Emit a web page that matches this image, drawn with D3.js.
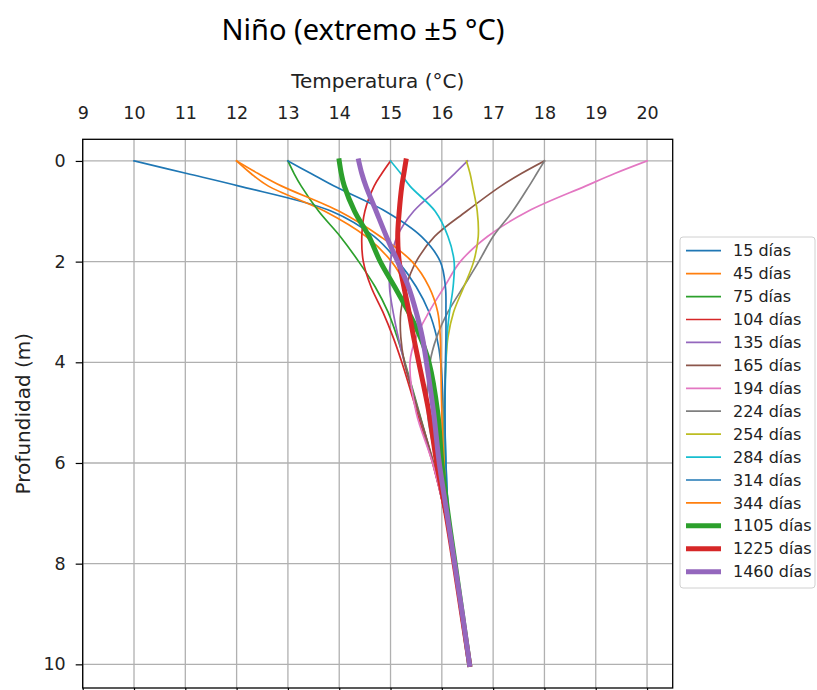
<!DOCTYPE html>
<html>
<head>
<meta charset="utf-8">
<script src="https://cdn.jsdelivr.net/npm/d3@7"></script>
<style>
  body { margin: 0; background: #fff; }
  svg { display: block; }
  text { font-family: "DejaVu Sans", sans-serif; fill: #222; }
</style>
</head>
<body>
<div id="chart"></div>
<script>
let width = 817;
let height = 690;

// depths (m) where each profile was read
let depths = [0, 0.25, 0.5, 1, 1.5, 2, 2.5, 3, 3.5, 4, 5, 6, 7, 8, 9, 10];

// temperature profiles (°C), one per day
let t15   = [10.0, 11.03, 12.05, 13.85, 14.68, 15.15, 15.5, 15.75, 15.9, 15.98, 16.03, 16.06, 16.12, 16.25, 16.4, 16.54];
let t45   = [12.0, 12.28, 12.62, 13.72, 14.52, 15.02, 15.32, 15.51, 15.64, 15.74, 15.88, 15.97, 16.1, 16.25, 16.4, 16.54];
let t75   = [13.0, 13.12, 13.26, 13.6, 14.02, 14.38, 14.7, 14.95, 15.13, 15.28, 15.56, 15.83, 16.06, 16.24, 16.39, 16.53];
let t104  = [15.0, 14.83, 14.68, 14.5, 14.44, 14.47, 14.62, 14.85, 15.05, 15.22, 15.52, 15.82, 16.06, 16.24, 16.39, 16.53];
let t135  = [16.5, 16.25, 15.99, 15.45, 15.13, 15.0, 14.98, 15.05, 15.15, 15.27, 15.55, 15.83, 16.06, 16.24, 16.39, 16.53];
let t165  = [18.0, 17.55, 17.15, 16.48, 15.86, 15.5, 15.3, 15.2, 15.2, 15.27, 15.55, 15.84, 16.06, 16.24, 16.39, 16.53];
let t194  = [20.0, 19.37, 18.8, 17.68, 16.89, 16.36, 16.05, 15.75, 15.5, 15.38, 15.5, 15.82, 16.06, 16.24, 16.39, 16.53];
let t224  = [18.0, 17.85, 17.7, 17.38, 17.0, 16.72, 16.42, 16.12, 15.9, 15.77, 15.72, 15.9, 16.08, 16.24, 16.39, 16.53];
let t254  = [16.48, 16.55, 16.6, 16.69, 16.71, 16.62, 16.43, 16.23, 16.12, 16.08, 16.05, 16.06, 16.12, 16.25, 16.39, 16.53];
let t284  = [15.0, 15.2, 15.38, 15.87, 16.12, 16.24, 16.22, 16.15, 16.1, 16.08, 16.06, 16.08, 16.13, 16.25, 16.39, 16.53];
let t314  = [13.0, 13.45, 13.9, 14.9, 15.6, 15.97, 16.07, 16.08, 16.08, 16.07, 16.06, 16.08, 16.13, 16.25, 16.39, 16.53];
let t344  = [12.0, 12.42, 12.88, 14.0, 14.8, 15.42, 15.75, 15.92, 15.97, 15.98, 16.0, 16.04, 16.12, 16.25, 16.39, 16.53];
let t1105 = [14.0, 14.04, 14.1, 14.3, 14.58, 14.8, 15.08, 15.35, 15.58, 15.75, 15.92, 16.0, 16.12, 16.26, 16.4, 16.54];
let t1225 = [15.3, 15.26, 15.22, 15.17, 15.14, 15.17, 15.26, 15.36, 15.45, 15.55, 15.75, 15.9, 16.08, 16.24, 16.39, 16.54];
let t1460 = [14.38, 14.44, 14.52, 14.72, 14.92, 15.14, 15.35, 15.5, 15.62, 15.7, 15.84, 15.95, 16.1, 16.25, 16.4, 16.54];

let dayLabels = ["15 días", "45 días", "75 días", "104 días", "135 días", "165 días", "194 días",
                 "224 días", "254 días", "284 días", "314 días", "344 días", "1105 días", "1225 días", "1460 días"];
let profiles = [t15, t45, t75, t104, t135, t165, t194, t224, t254, t284, t314, t344, t1105, t1225, t1460];

let xTicks = [9, 10, 11, 12, 13, 14, 15, 16, 17, 18, 19, 20];
let yTicks = [0, 2, 4, 6, 8, 10];

// matplotlib default colour cycle
let colors = ["#1f77b4", "#ff7f0e", "#2ca02c", "#d62728", "#9467bd", "#8c564b", "#e377c2",
              "#7f7f7f", "#bcbd22", "#17becf", "#1f77b4", "#ff7f0e", "#2ca02c", "#d62728", "#9467bd"];
let widths = [1.7, 1.7, 1.7, 1.7, 1.7, 1.7, 1.7, 1.7, 1.7, 1.7, 1.7, 1.7, 5, 5, 5];

let plot = {left: 82.7, right: 672.7, top: 139.3, bottom: 688};

let x = d3.scaleLinear().domain([9, 20.5]).range([plot.left, plot.right]);
let y = d3.scaleLinear().domain([-0.43, 10.47]).range([plot.top, plot.bottom]);

let svg = d3.select("#chart").append("svg")
    .attr("width", width)
    .attr("height", height);

svg.append("rect")
    .attr("width", width)
    .attr("height", height)
    .attr("fill", "#fff");

// title
svg.append("text")
    .attr("x", 363)
    .attr("y", 40)
    .attr("text-anchor", "middle")
    .style("font-family", "'Noto Sans', sans-serif")
    .style("font-size", "29px")
    .style("fill", "#000")
    .text("Niño (extremo ±5 °C)");

// grid
let grid = svg.append("g").attr("id", "grid");
grid.selectAll("line.vx")
    .data(xTicks)
  .enter().append("line")
    .attr("x1", d => x(d)).attr("x2", d => x(d))
    .attr("y1", plot.top).attr("y2", plot.bottom)
    .attr("stroke", "#b0b0b0")
    .attr("stroke-width", 1.3);
grid.selectAll("line.hy")
    .data(yTicks)
  .enter().append("line")
    .attr("x1", plot.left).attr("x2", plot.right)
    .attr("y1", d => y(d)).attr("y2", d => y(d))
    .attr("stroke", "#b0b0b0")
    .attr("stroke-width", 1.3);

// axes
let xAxis = svg.append("g")
    .attr("transform", "translate(0," + plot.top + ")")
    .call(d3.axisTop(x).tickValues(xTicks).tickSize(0).tickPadding(20).tickFormat(d3.format("d")));

let xAxisBottom = svg.append("g")
    .attr("transform", "translate(0," + plot.bottom + ")")
    .call(d3.axisBottom(x).tickValues(xTicks).tickSize(7).tickFormat(""));

let yAxis = svg.append("g")
    .attr("transform", "translate(" + plot.left + ",0)")
    .call(d3.axisLeft(y).tickValues(yTicks).tickSize(7).tickPadding(10).tickFormat(d3.format("d")));

[xAxis, xAxisBottom, yAxis].forEach(a => {
    a.select(".domain").remove();
    a.selectAll("line").attr("stroke", "#000").attr("stroke-width", 1.2);
    a.selectAll("text")
        .style("font-family", "'DejaVu Sans', sans-serif")
        .style("font-size", "17.5px")
        .attr("fill", "#222");
});

// profiles
let line = d3.line()
    .x(d => x(d))
    .y((d, i) => y(depths[i]))
    .curve(d3.curveCatmullRom.alpha(0.5));

svg.append("g").attr("id", "profiles")
    .selectAll("path")
    .data(profiles)
  .enter().append("path")
    .attr("d", line)
    .attr("fill", "none")
    .attr("stroke", (d, i) => colors[i])
    .attr("stroke-width", (d, i) => widths[i])
    .attr("stroke-linecap", "square")
    .attr("stroke-linejoin", "round");

// frame
svg.append("rect")
    .attr("x", plot.left)
    .attr("y", plot.top)
    .attr("width", plot.right - plot.left)
    .attr("height", plot.bottom - plot.top)
    .attr("fill", "none")
    .attr("stroke", "#000")
    .attr("stroke-width", 1.3);

// axis labels
svg.append("text")
    .attr("x", (plot.left + plot.right) / 2)
    .attr("y", 88)
    .attr("text-anchor", "middle")
    .style("font-size", "20px")
    .text("Temperatura (°C)");

svg.append("text")
    .attr("transform", "translate(30," + ((plot.top + plot.bottom) / 2) + ") rotate(-90)")
    .attr("text-anchor", "middle")
    .style("font-size", "20px")
    .text("Profundidad (m)");

// legend
let legend = svg.append("g").attr("id", "legend");
legend.append("rect")
    .attr("x", 680)
    .attr("y", 237)
    .attr("width", 135)
    .attr("height", 351)
    .attr("rx", 3)
    .attr("fill", "#fff")
    .attr("stroke", "#d0d0d0")
    .attr("stroke-width", 1);

let rowH = 22.93;
let item = legend.selectAll("g.item")
    .data(dayLabels)
  .enter().append("g")
    .attr("transform", (d, i) => "translate(0," + (250.7 + i * rowH) + ")");

item.append("line")
    .attr("x1", 686)
    .attr("x2", 721)
    .attr("stroke", (d, i) => colors[i])
    .attr("stroke-width", (d, i) => widths[i]);

item.append("text")
    .attr("x", 733)
    .attr("dy", "0.35em")
    .style("font-size", "16px")
    .text(d => d);
</script>
</body>
</html>
